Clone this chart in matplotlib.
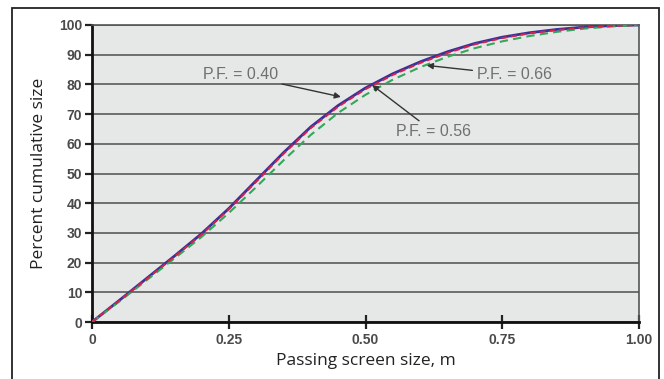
import matplotlib
matplotlib.use('Agg')
import matplotlib.pyplot as plt
from matplotlib.patches import Rectangle

# Data
screen_size = [0.00, 0.05, 0.10, 0.15, 0.20, 0.25, 0.30, 0.35, 0.40, 0.45, 0.50,
               0.55, 0.60, 0.65, 0.70, 0.75, 0.80, 0.85, 0.90, 0.95, 1.00]
pf_040 = [0.0, 7.3, 14.7, 22.1, 29.7, 38.2, 47.6, 57.0, 65.7, 72.9, 78.8,
          83.6, 87.6, 91.0, 93.8, 95.9, 97.4, 98.5, 99.3, 99.8, 100.0]
pf_056 = [0.0, 7.2, 14.5, 21.9, 29.4, 37.9, 47.2, 56.6, 65.3, 72.5, 78.4,
          83.2, 87.2, 90.6, 93.5, 95.6, 97.2, 98.3, 99.2, 99.7, 100.0]
pf_066 = [0.0, 6.9, 14.1, 21.3, 28.6, 36.7, 45.4, 54.4, 63.0, 70.4, 76.5,
          81.6, 85.8, 89.3, 92.2, 94.5, 96.3, 97.7, 98.8, 99.5, 100.0]

x_ticks = [0, 0.25, 0.50, 0.75, 1.00]
x_tick_labels = ['0', '0.25', '0.50', '0.75', '1.00']
y_ticks = list(range(0, 101, 10))

fig = plt.figure(figsize=(6.64, 3.79), dpi=100)

# outer frame (bottom edge runs off the image)
frame = Rectangle((12 / 664, -0.05), 647 / 664, 1 - 8 / 379 + 0.05,
                  transform=fig.transFigure, fill=False, edgecolor='#222222',
                  linewidth=1.3, zorder=0)
fig.patches.append(frame)

ax = fig.add_axes([92 / 664, 57 / 379, 547 / 664, 297 / 379])
ax.set_facecolor('#e6e8e8')

ax.plot(screen_size, pf_040, color='#3a3296', linewidth=2.0, zorder=3)
ax.plot(screen_size, pf_056, color='#d8204c', linewidth=1.4,
        linestyle=(0, (3, 2)), zorder=4)
ax.plot(screen_size, pf_066, color='#33a85a', linewidth=1.5,
        linestyle=(0, (4, 2.5)), zorder=3)

ax.set_xlim(0, 1.0)
ax.set_ylim(0, 100)
ax.set_xticks(x_ticks)
ax.set_xticklabels(x_tick_labels)
ax.set_yticks(y_ticks)

ax.yaxis.grid(True, color='#5a5a5a', linewidth=1.2)
ax.set_axisbelow(True)

for side in ['left', 'bottom']:
    ax.spines[side].set_linewidth(2.0)
    ax.spines[side].set_color('#111111')
for side in ['top', 'right']:
    ax.spines[side].set_linewidth(1.2)
    ax.spines[side].set_color('#555555')

tick_font = dict(family='Liberation Sans', size=10, weight='bold')
ax.tick_params(axis='x', direction='inout', length=10, width=1.6,
               color='#222222', labelcolor='#4a4a4a', pad=3)
ax.tick_params(axis='y', direction='out', length=5, width=1.6,
               color='#222222', labelcolor='#4a4a4a', pad=2)
for lab in ax.get_xticklabels() + ax.get_yticklabels():
    lab.set_fontproperties(tick_font)

ax.set_xlabel('Passing screen size, m', family='Open Sans', fontsize=12.5,
              color='#222222', labelpad=4)
ax.set_ylabel('Percent cumulative size', family='Open Sans', fontsize=12.5,
              color='#222222', labelpad=9)

# annotations
ann_font = dict(family='Liberation Sans', fontsize=11.5, color='#707070')
arrow = dict(arrowstyle='-|>', color='#333333', linewidth=1.0,
             mutation_scale=9, shrinkA=1, shrinkB=0)
ax.annotate('P.F. = 0.40', xy=(0.455, 75.8), xytext=(0.34, 83.2),
            ha='right', va='center', arrowprops=arrow, **ann_font)
ax.annotate('P.F. = 0.66', xy=(0.612, 86.4), xytext=(0.703, 83.2),
            ha='left', va='center', arrowprops=arrow, **ann_font)
ax.annotate('P.F. = 0.56', xy=(0.512, 79.8), xytext=(0.556, 64.0),
            ha='left', va='center', arrowprops=arrow, **ann_font)

fig.savefig('out.png', dpi=100)
